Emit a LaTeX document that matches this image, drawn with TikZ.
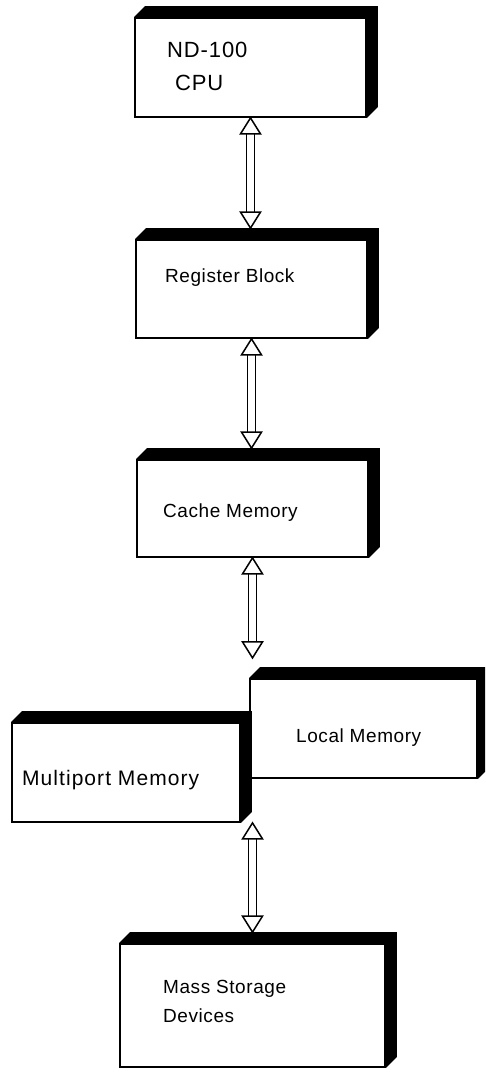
\documentclass[tikz,border=0pt]{standalone}
\usepackage{fontspec}
\setmainfont{Liberation Sans}
\usetikzlibrary{calc}
\tikzset{
  face/.style={draw=black, line width=1.8pt, fill=white, inner sep=0pt, rectangle},
  arrline/.style={draw=black, line width=1.5pt, line join=miter},
  lbl/.style={anchor=base west, inner sep=0pt, font=\fontsize{19}{22}\selectfont\addfontfeature{LetterSpace=3}},
  biglbl/.style={anchor=base west, inner sep=0pt, font=\fontsize{22}{26}\selectfont\addfontfeature{LetterSpace=4}},
  mplbl/.style={anchor=base west, inner sep=0pt, font=\fontsize{21}{25}\selectfont\addfontfeature{LetterSpace=5}},
}
\newcommand\boxshadow[1]{%
  \fill[black] (#1.north west) -- ++(11,-11) -- ($(#1.north east)+(11,-11)$) -- ($(#1.south east)+(11,-11)$) -- (#1.south east) -- (#1.north east) -- cycle;
}
\newcommand\biarrow[2]{%
  \draw[arrline] (#1) -- ++(-10,16) -- ++(20,0) -- cycle;
  \draw[arrline] (#2) -- ++(-10,-16) -- ++(20,0) -- cycle;
  \draw[arrline] ($(#1)+(-4,16)$) -- ($(#2)+(-4,-16)$);
  \draw[arrline] ($(#1)+(4,16)$) -- ($(#2)+(4,-16)$);
}
\begin{document}
\begin{tikzpicture}[x=1pt,y=-1pt]
\useasboundingbox (0,0) rectangle (485,1078);
\clip (0,0) rectangle (485,1078);
\fill[white] (0,0) rectangle (485,1078);

% boxes
\node[face, minimum width=231pt, minimum height=99pt] (cpu) at (250.5,67.5) {};
\boxshadow{cpu}
\node[face, minimum width=231pt, minimum height=98pt] (reg) at (251.5,289) {};
\boxshadow{reg}
\node[face, minimum width=231pt, minimum height=97pt] (cache) at (252.5,508.5) {};
\boxshadow{cache}
\node[face, minimum width=227pt, minimum height=99pt] (local) at (363.5,728.5) {};
\boxshadow{local}
\node[face, minimum width=228pt, minimum height=99pt] (multi) at (126,772.5) {};
\boxshadow{multi}
\node[face, minimum width=265pt, minimum height=123pt] (mass) at (252.5,1005.5) {};
\boxshadow{mass}

% labels
\node[biglbl] (cpuA) at (167,58) {ND-100};
\node[biglbl] (cpuB) at (175,91) {CPU};
\node[lbl] (regT) at (165,282) {Register Block};
\node[lbl] (cacheT) at (163,517) {Cache Memory};
\node[lbl] (localT) at (296,742) {Local Memory};
\node[mplbl] (multiT) at (22,785) {Multiport Memory};
\node[lbl] (massA) at (163,993) {Mass Storage};
\node[lbl] (massB) at (163,1022) {Devices};

% connectors
\coordinate (a1t) at (cpu.south);
\coordinate (a1b) at ($(a1t |- reg.north)+(0,-11)$);
\biarrow{a1t}{a1b}
\coordinate (a2t) at (reg.south);
\coordinate (a2b) at ($(a2t |- cache.north)+(0,-11)$);
\biarrow{a2t}{a2b}
\coordinate (a3t) at (cache.south);
\coordinate (a3b) at ($(a3t)+(0,100)$);
\biarrow{a3t}{a3b}
\coordinate (a4b) at ($(mass.north)+(0,-11)$);
\coordinate (a4t) at (a4b |- multi.south);
\biarrow{a4t}{a4b}
\end{tikzpicture}
\end{document}
